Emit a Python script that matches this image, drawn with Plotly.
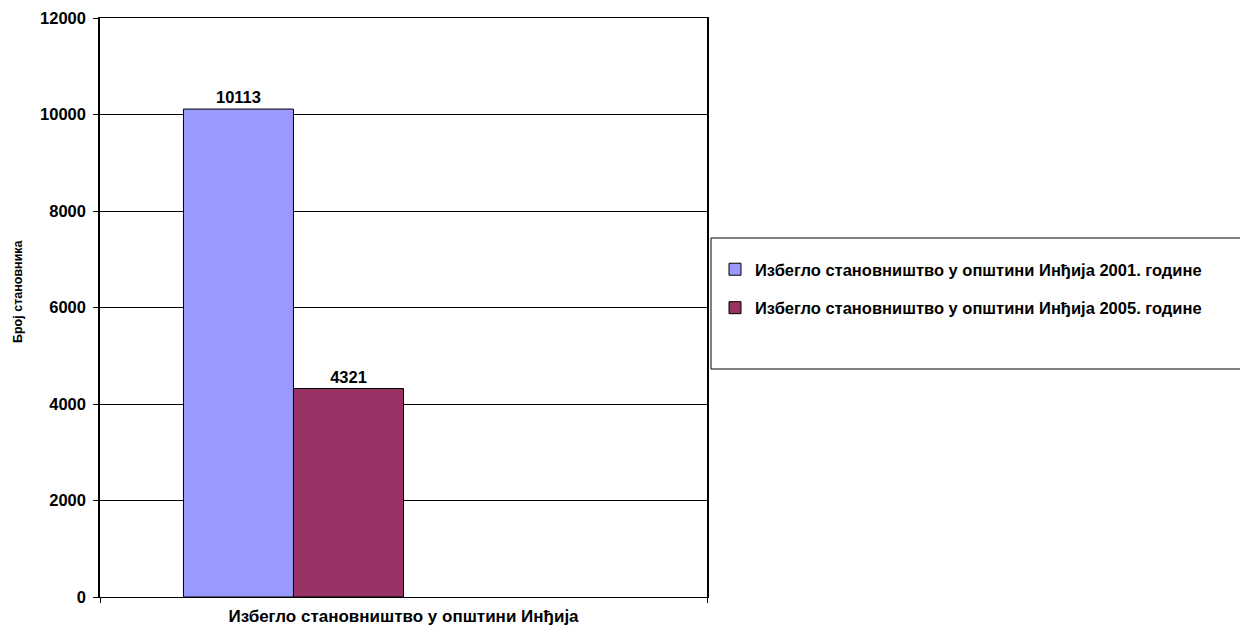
import plotly.graph_objects as go

categories = ["Избегло становништво у општини Инђија"]
series_names = [
    "Избегло становништво у општини Инђија 2001. године",
    "Избегло становништво у општини Инђија 2005. године",
]
values_2001 = [10113]
values_2005 = [4321]
y_ticks = [0, 2000, 4000, 6000, 8000, 10000, 12000]
y_title = "Број становника"

FONT = "Liberation Sans, Arial, Helvetica, sans-serif"
FS = 16.5

fig = go.Figure()
fig.add_trace(go.Bar(
    x=categories, y=values_2001, name=series_names[0], legendgroup="g2001",
    marker=dict(color="#9999FF", line=dict(color="#000000", width=1)),
    text=[str(v) for v in values_2001], textposition="outside",
    textfont=dict(family=FONT, size=FS, color="#000000", weight="bold"),
    cliponaxis=False,
))
fig.add_trace(go.Bar(
    x=categories, y=values_2005, name=series_names[1], legendgroup="g2005",
    marker=dict(color="#993366", line=dict(color="#000000", width=1)),
    text=[str(v) for v in values_2005], textposition="outside",
    textfont=dict(family=FONT, size=FS, color="#000000", weight="bold"),
    cliponaxis=False,
))
# two empty series slots (present in the original chart, no data)
for _ in range(2):
    fig.add_trace(go.Bar(x=categories, y=[None], showlegend=False,
                         hoverinfo="skip", marker=dict(color="rgba(0,0,0,0)")))

W, H = 1240, 627
L, R, T, B = 100, 707, 18, 597

def px_x(p):
    return (p - L) / (R - L)

def px_y(p):
    return (B - p) / (B - T)

fig.update_layout(
    width=W, height=H,
    margin=dict(l=L, r=W - R, t=T, b=H - B, autoexpand=False),
    paper_bgcolor="white", plot_bgcolor="white",
    barmode="group", bargap=0.275, bargroupgap=0,
    font=dict(family=FONT, size=FS, color="#000000", weight="bold"),
    showlegend=True,
    legend=dict(
        x=px_x(715), y=px_y(252),
        xanchor="left", yanchor="top",
        bgcolor="rgba(0,0,0,0)", borderwidth=0,
        font=dict(family=FONT, size=FS, color="#000000", weight="bold"),
        tracegroupgap=14, itemwidth=30,
        traceorder="grouped",
    ),
    xaxis=dict(
        type="category", showline=True, linecolor="#000000", linewidth=1,
        mirror=True, ticks="outside", ticklen=5, tickson="boundaries",
        tickcolor="#000000", showgrid=False, ticklabelstandoff=4,
        tickfont=dict(family=FONT, size=17, color="#000000", weight="bold"),
    ),
    yaxis=dict(
        range=[0, 12000], tickvals=y_ticks, ticktext=[str(v) for v in y_ticks],
        showline=True, linecolor="#000000", linewidth=1.5, mirror=True,
        ticks="outside", ticklen=5, tickcolor="#000000", ticklabelstandoff=4,
        showgrid=True, gridcolor="#000000", gridwidth=1,
        tickfont=dict(family=FONT, size=FS, color="#000000", weight="bold"),
        automargin=False,
    ),
    annotations=[dict(
        text=y_title, xref="paper", yref="paper", x=px_x(18), y=px_y(291),
        xanchor="center", yanchor="middle", textangle=-90, showarrow=False,
        font=dict(family=FONT, size=12.5, color="#000000", weight="bold"),
    )],
    shapes=[dict(
        type="rect", xref="paper", yref="paper",
        x0=px_x(711), x1=px_x(1245), y0=px_y(369), y1=px_y(238),
        line=dict(color="#000000", width=1), fillcolor="rgba(0,0,0,0)",
    )],
)

fig.write_html("out.html", config={"displayModeBar": False},
               post_script="document.body.style.margin='0';document.body.style.overflow='hidden';")
